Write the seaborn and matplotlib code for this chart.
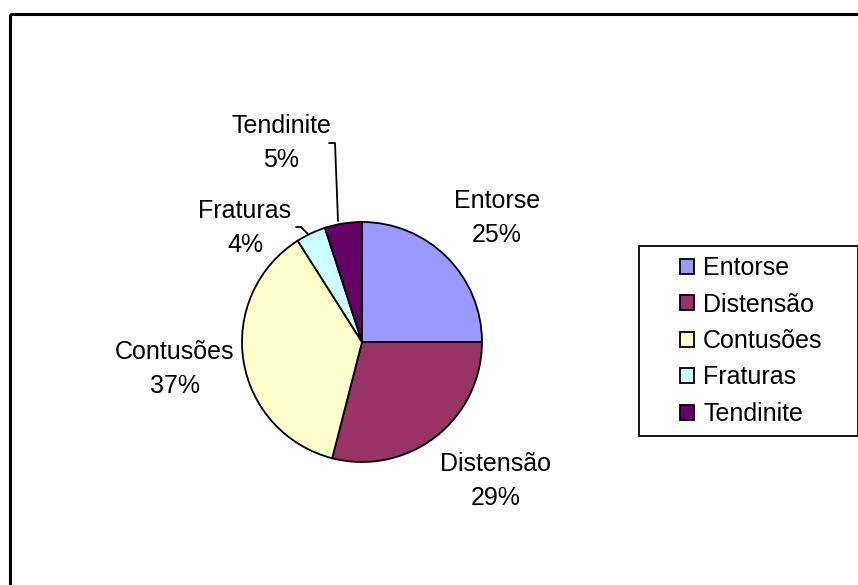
import matplotlib
matplotlib.use("Agg")
import matplotlib.pyplot as plt
import seaborn as sns
from matplotlib.patches import Rectangle

# data
categorias = ["Entorse", "Distensão", "Contusões", "Fraturas", "Tendinite"]
percentuais = [25, 29, 37, 4, 5]
cores = ["#9999FF", "#993366", "#FFFFCC", "#CCFFFF", "#660066"]

sns.set_style("white")
plt.rcParams['font.family'] = ['Liberation Sans', 'DejaVu Sans']
plt.rcParams['text.color'] = 'black'

fig = plt.figure(figsize=(8.58, 5.85), dpi=100)
ax = fig.add_axes([0, 0, 1, 1])

# pie (y axis inverted below, so counterclock=True draws clockwise on screen)
wedges, _ = ax.pie(percentuais, colors=cores, startangle=-90, counterclock=True,
                   center=(362, 342), radius=120, frame=True,
                   wedgeprops=dict(edgecolor="black", linewidth=1.3))
ax.set_xlim(0, 858)
ax.set_ylim(585, 0)
ax.set_aspect("equal")
ax.axis("off")

# outer chart frame (right/bottom edges fall outside the image)
ax.add_patch(Rectangle((9.5, 13.5), 860, 600, fill=False, edgecolor="black", linewidth=2.2))

# labels
pos_rotulos = [(497, 218), (496, 481), (175, 369), (245, 228), (281, 143)]
for nome, val, (x, y) in zip(categorias, percentuais, pos_rotulos):
    ax.text(x, y, f"{nome}\n{val}%", ha="center", va="center", fontsize=18,
            linespacing=1.5, color="black")

# leader lines
ax.plot([338, 335, 329], [221, 143, 143], color="black", linewidth=1.3)
ax.plot([308, 301, 296], [234, 227, 227], color="black", linewidth=1.3)

# legend box
ax.add_patch(Rectangle((638.5, 245.5), 219, 190, fill=False, edgecolor="black", linewidth=1.3))
leg = ax.legend(wedges, categorias, loc="upper left",
                bbox_to_anchor=(680 / 858, 1 - 256 / 585), frameon=False,
                fontsize=18, handlelength=0.56, handleheight=0.56,
                handletextpad=0.36, labelspacing=0.5, borderpad=0,
                borderaxespad=0)
for t in leg.get_texts():
    t.set_color("black")

fig.savefig("out.png", dpi=100)
